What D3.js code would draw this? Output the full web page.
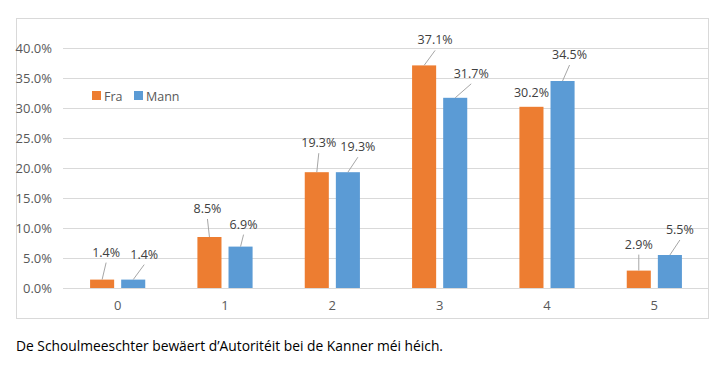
<!DOCTYPE html>
<html>
<head>
<meta charset="utf-8">
<script src="https://cdn.jsdelivr.net/npm/d3@7"></script>
<style>
  body { margin: 0; background: #fff; }
  svg text { font-family: "Open Sans", "Noto Sans", sans-serif; }
</style>
</head>
<body>
<div id="chart"></div>
<script>
// chart data
let categories = ["0", "1", "2", "3", "4", "5"];
let seriesNames = ["Fra", "Mann"];
let fraValues = [1.4, 8.5, 19.3, 37.1, 30.2, 2.9];
let mannValues = [1.4, 6.9, 19.3, 31.7, 34.5, 5.5];
let yTicks = [0, 5, 10, 15, 20, 25, 30, 35, 40];
let caption = "De Schoulmeeschter bewäert d\u2019Autoritéit bei de Kanner méi héich.";

// hand-placed data label offsets (dx, dy from the top centre of each bar)
let fraLabelOffsets = [[4, -23], [-2, -24], [2, -25], [11, -21], [0, -10], [0, -22]];
let mannLabelOffsets = [[11, -21], [3, -18], [10, -21], [16, -20], [7, -22], [10, -21]];

let colors = { Fra: "#ED7D31", Mann: "#5B9BD5" };

let svgWidth = 727;
let svgHeight = 373;

let svg = d3.select("#chart")
  .append("svg")
  .attr("width", svgWidth)
  .attr("height", svgHeight);

// outer chart frame
svg.append("rect")
  .attr("x", 16.5)
  .attr("y", 18.5)
  .attr("width", 692)
  .attr("height", 300)
  .attr("fill", "none")
  .attr("stroke", "#d9d9d9");

let plot = { left: 64, right: 708, top: 48, bottom: 288 };

let x0 = d3.scaleBand()
  .domain(categories)
  .range([plot.left, plot.right])
  .paddingInner(0.486)
  .paddingOuter(0.243);

let x1 = d3.scaleBand()
  .domain(seriesNames)
  .range([0, x0.bandwidth()])
  .paddingInner(0.226);

let y = d3.scaleLinear()
  .domain([0, 40])
  .range([plot.bottom, plot.top]);

// gridlines
svg.append("g")
  .selectAll("line")
  .data(yTicks)
  .enter().append("line")
  .attr("x1", plot.left - 1)
  .attr("x2", plot.right)
  .attr("y1", d => Math.round(y(d)) + 0.5)
  .attr("y2", d => Math.round(y(d)) + 0.5)
  .attr("stroke", "#d9d9d9")
  .attr("stroke-width", 1);

// y axis labels
let yAxis = d3.axisLeft(y)
  .tickValues(yTicks)
  .tickSize(0)
  .tickPadding(0)
  .tickFormat(d => d.toFixed(1) + "%");

let yg = svg.append("g")
  .attr("transform", "translate(52,0)")
  .call(yAxis);
yg.select(".domain").remove();
yg.selectAll("text")
  .attr("fill", "#595959")
  .attr("font-size", "13px");

// x axis labels
let xAxis = d3.axisBottom(x0).tickSize(0).tickPadding(0);
let xg = svg.append("g")
  .attr("transform", "translate(0,301)")
  .call(xAxis);
xg.select(".domain").remove();
xg.selectAll("text")
  .attr("fill", "#595959")
  .attr("font-size", "13px");

// build rows from the arrays
let rows = categories.map((c, i) => ({
  cat: c,
  bars: [
    { name: "Fra", value: fraValues[i], off: fraLabelOffsets[i] },
    { name: "Mann", value: mannValues[i], off: mannLabelOffsets[i] }
  ]
}));

let groups = svg.append("g")
  .selectAll("g")
  .data(rows)
  .enter().append("g")
  .attr("transform", d => `translate(${x0(d.cat)},0)`);

groups.selectAll("rect")
  .data(d => d.bars)
  .enter().append("rect")
  .attr("x", d => x1(d.name))
  .attr("y", d => y(d.value))
  .attr("width", x1.bandwidth())
  .attr("height", d => y(0) - y(d.value))
  .attr("fill", d => colors[d.name]);

// leader lines
groups.selectAll(".leader")
  .data(d => d.bars.filter(b => b.off[1] < -15))
  .enter().append("line")
  .attr("class", "leader")
  .attr("x1", d => x1(d.name) + x1.bandwidth() / 2)
  .attr("y1", d => y(d.value))
  .attr("x2", d => x1(d.name) + x1.bandwidth() / 2 + d.off[0])
  .attr("y2", d => y(d.value) + d.off[1] + 6)
  .attr("stroke", "#a6a6a6")
  .attr("stroke-width", 1);

// data labels
groups.selectAll(".lbl")
  .data(d => d.bars)
  .enter().append("text")
  .attr("class", "lbl")
  .attr("x", d => x1(d.name) + x1.bandwidth() / 2 + d.off[0])
  .attr("y", d => y(d.value) + d.off[1])
  .attr("text-anchor", "middle")
  .attr("fill", "#404040")
  .attr("font-size", "12.5px")
  .text(d => d.value.toFixed(1) + "%");

// legend
let legend = svg.append("g")
  .attr("transform", "translate(92,91)");
let legendItems = legend.selectAll("g")
  .data(seriesNames)
  .enter().append("g")
  .attr("transform", (d, i) => `translate(${i * 42},0)`);
legendItems.append("rect")
  .attr("width", 9)
  .attr("height", 9)
  .attr("fill", d => colors[d]);
legendItems.append("text")
  .attr("x", 12)
  .attr("y", 9.5)
  .attr("fill", "#595959")
  .attr("font-size", "12.5px")
  .text(d => d);

// caption below the chart
svg.append("text")
  .attr("x", 16)
  .attr("y", 351)
  .attr("fill", "#000")
  .attr("font-size", "14.5px")
  .attr("textLength", 427)
  .attr("lengthAdjust", "spacingAndGlyphs")
  .text(caption);
</script>
</body>
</html>
